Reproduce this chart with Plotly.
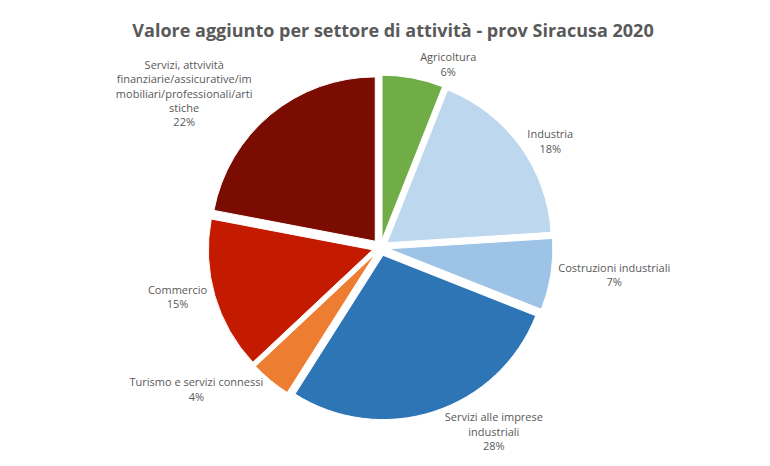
import plotly.graph_objects as go

# settori, clockwise from 12 o'clock
settori = [
    "Agricoltura",
    "Industria",
    "Costruzioni industriali",
    "Servizi alle imprese<br>industriali",
    "Turismo e servizi connessi",
    "Commercio",
    "Servizi, attvività<br>finanziarie/assicurative/im<br>mobiliari/professionali/arti<br>stiche",
]
quote = [6, 18, 7, 28, 4, 15, 22]
colori = ["#70AD47", "#BDD7EE", "#9DC3E6", "#2E75B6", "#ED7D31", "#C41A00", "#7A0C02"]
stacco = [0.05, 0.05, 0.05, 0.05, 0.05, 0.05, 0.05]

fig = go.Figure(go.Pie(
    labels=[s.replace("<br>", " ") for s in settori],
    values=quote,
    text=settori,
    texttemplate="%{text}<br>%{percent:.0%}",
    textposition="outside",
    sort=False,
    direction="clockwise",
    rotation=0,
    pull=stacco,
    marker=dict(colors=colori, line=dict(color="white", width=1)),
    outsidetextfont=dict(family="Open Sans", size=11, color="#595959"),
    showlegend=False,
    domain=dict(x=[0.0, 1.0], y=[0.0, 0.94]),
))

fig.update_layout(
    title=dict(text="<b>Valore aggiunto per settore di attività - prov Siracusa 2020</b>",
               x=0.5, y=0.965, xanchor="center",
               font=dict(family="Open Sans", size=18, color="#595959")),
    width=770, height=466,
    margin=dict(l=20, r=20, t=45, b=12),
    paper_bgcolor="white",
)

fig.write_html("out.html")
